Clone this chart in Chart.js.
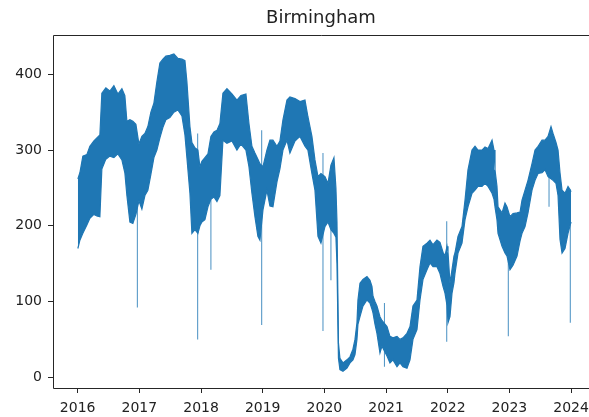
<!DOCTYPE html>
<html>
<head>
<meta charset="utf-8">
<script src="https://cdn.jsdelivr.net/npm/chart.js@4/dist/chart.umd.min.js"></script>
<style>
  html, body { margin: 0; padding: 0; overflow: hidden; background: #fff; }
  #wrap { width: 589px; height: 417px; }
</style>
</head>
<body>
<div id="wrap"><canvas id="c" width="589" height="417"></canvas></div>
<script>
// Daily band of the Birmingham series, sampled as decimal years with the
// upper and lower extent of the daily values at each sample.
const t = [
  2016.003, 2016.036, 2016.084, 2016.149, 2016.198, 2016.263, 2016.311, 2016.360, 2016.392, 2016.457,
  2016.522, 2016.587, 2016.652, 2016.717, 2016.765, 2016.798, 2016.847, 2016.895, 2016.944, 2016.993,
  2017.041, 2017.090, 2017.138, 2017.187, 2017.236, 2017.284, 2017.333, 2017.382, 2017.430, 2017.495,
  2017.560, 2017.625, 2017.690, 2017.739, 2017.771, 2017.820, 2017.852, 2017.901, 2017.949, 2017.982,
  2018.014, 2018.063, 2018.112, 2018.160, 2018.209, 2018.258, 2018.306, 2018.355, 2018.420, 2018.501,
  2018.582, 2018.647, 2018.728, 2018.777, 2018.825, 2018.874, 2018.922, 2018.955, 2019.004, 2019.068,
  2019.117, 2019.166, 2019.231, 2019.279, 2019.328, 2019.393, 2019.441, 2019.523, 2019.604, 2019.685,
  2019.733, 2019.798, 2019.847, 2019.896, 2019.944, 2020.009, 2020.058, 2020.106, 2020.155, 2020.187,
  2020.204, 2020.228, 2020.252,
  2020.301, 2020.366, 2020.415, 2020.463, 2020.496, 2020.528, 2020.544, 2020.577, 2020.625, 2020.690,
  2020.739, 2020.771, 2020.788, 2020.820, 2020.852, 2020.901, 2020.933, 2021.015, 2021.063, 2021.112,
  2021.177, 2021.225, 2021.274, 2021.339, 2021.388, 2021.436, 2021.501, 2021.550, 2021.598, 2021.663,
  2021.712, 2021.761, 2021.825, 2021.874, 2021.923, 2021.955, 2021.988, 2022.004, 2022.036, 2022.069,
  2022.101, 2022.117, 2022.166, 2022.231, 2022.280, 2022.328, 2022.393, 2022.442, 2022.490, 2022.555,
  2022.604, 2022.653, 2022.718, 2022.750, 2022.766, 2022.798, 2022.815, 2022.880, 2022.928, 2022.961,
  2023.009, 2023.058, 2023.123, 2023.172, 2023.204, 2023.253, 2023.301, 2023.366, 2023.415, 2023.464,
  2023.528, 2023.577, 2023.626, 2023.674, 2023.707, 2023.755, 2023.788, 2023.820, 2023.853, 2023.901,
  2023.950, 2023.982, 2023.999
];
const hi = [
  262, 270, 292, 294, 305, 312, 316, 320, 375, 382,
  378, 385, 374, 381, 372, 338, 340, 338, 334, 308,
  318, 322, 331, 350, 362, 390, 415, 420, 424, 425,
  427, 421, 420, 418, 390, 331, 310, 303, 300, 278,
  285, 290, 295, 318, 324, 326, 335, 375, 381, 374,
  366, 372, 374, 335, 305, 296, 288, 282, 278, 300,
  313, 313, 305, 312, 340, 366, 370, 368, 364, 366,
  344, 318, 287, 265, 269, 265, 256, 280, 290, 250,
  205, 45, 25,
  19, 23, 27, 37, 50, 72, 102, 124, 129, 133,
  128, 120, 107, 100, 94, 80, 75, 67, 54, 52,
  54, 50, 52, 58, 67, 94, 102, 146, 173, 177,
  181, 175, 181, 178, 165, 160, 173, 165, 124, 142,
  160, 164, 186, 199, 234, 274, 300, 305, 300, 300,
  304, 302, 313, 300, 274, 252, 225, 217, 230, 225,
  212, 216, 217, 218, 234, 247, 260, 282, 300, 305,
  313, 313, 318, 331, 322, 310, 300, 270, 247, 243,
  252, 248, 245
];
const lo = [
  170, 181, 190, 201, 210, 215, 213, 212, 275, 288,
  292, 290, 295, 287, 270, 240, 205, 203, 215, 233,
  222, 240, 247, 268, 290, 300, 316, 330, 340, 343,
  350, 353, 345, 320, 290, 243, 190, 195, 190, 200,
  205, 208, 225, 235, 238, 232, 240, 313, 309, 312,
  300, 308, 300, 278, 243, 212, 186, 181, 221, 247,
  226, 225, 258, 275, 300, 313, 296, 312, 318, 305,
  300, 269, 247, 186, 177, 199, 205, 195, 190, 185,
  150, 25, 10,
  8, 12, 19, 23, 30, 50, 70, 80, 94, 102,
  98, 90, 85, 70, 58, 32, 41, 28, 19, 23,
  14, 19, 14, 12, 23, 50, 63, 102, 129, 142,
  151, 146, 146, 137, 120, 111, 95, 72, 80, 111,
  125, 137, 164, 177, 208, 225, 243, 247, 252, 252,
  256, 252, 243, 235, 225, 208, 190, 173, 164, 160,
  142, 148, 160, 180, 190, 199, 217, 247, 260, 269,
  270, 274, 265, 262, 260, 256, 240, 182, 164, 170,
  190, 200, 205
];

// Single days that fall far outside the band (holiday dips and similar).
const spikeT   = [2016.968, 2017.945, 2018.160, 2018.983, 2019.977, 2020.106, 2020.974, 2021.983, 2022.982, 2023.642, 2023.987];
const spikeTop = [230, 322, 238, 326, 296, 195, 98, 206, 160, 265, 248];
const spikeLow = [92, 50, 142, 69, 61, 128, 14, 47, 54, 225, 72];

const yearTicks = [2016, 2017, 2018, 2019, 2020, 2021, 2022, 2023, 2024];
const valueTicks = [0, 100, 200, 300, 400];

const BLUE = '#1f77b4';
const INK = '#262626';
const FONT = 'DejaVu Sans';

const upperPts = t.map((x, i) => ({ x, y: hi[i] }));
const lowerPts = t.map((x, i) => ({ x, y: lo[i] }));
const spikePts = [];
spikeT.forEach((x, i) => {
  spikePts.push({ x, y: spikeTop[i] }, { x, y: spikeLow[i] }, { x, y: null });
});

// Axes box: left, bottom and top edges (the right edge runs off the canvas).
const frame = {
  id: 'frame',
  afterDraw(chart) {
    const { ctx, chartArea: a } = chart;
    const l = Math.round(a.left) + 0.5, tp = Math.round(a.top) + 0.5, b = Math.round(a.bottom) + 0.5;
    ctx.save();
    ctx.strokeStyle = INK;
    ctx.lineWidth = 1;
    ctx.beginPath();
    ctx.moveTo(a.right + 2, tp);
    ctx.lineTo(l, tp);
    ctx.lineTo(l, b);
    ctx.lineTo(a.right + 2, b);
    ctx.stroke();
    ctx.restore();
  }
};

new Chart(document.getElementById('c'), {
  type: 'line',
  data: {
    datasets: [
      { data: upperPts, borderColor: BLUE, borderWidth: 1.2, pointRadius: 0, fill: false, tension: 0 },
      { data: lowerPts, borderColor: BLUE, borderWidth: 1.2, pointRadius: 0, fill: '-1', backgroundColor: BLUE, tension: 0 },
      { data: spikePts, borderColor: 'rgba(31,119,180,0.75)', borderWidth: 1.1, pointRadius: 0, fill: false, spanGaps: false }
    ]
  },
  options: {
    responsive: false,
    animation: false,
    events: [],
    layout: { padding: { left: 0, right: 0, top: 0, bottom: 0 } },
    plugins: {
      legend: { display: false },
      tooltip: { enabled: false },
      title: {
        display: true,
        text: 'Birmingham',
        fullSize: false,
        color: '#222',
        font: { family: FONT, size: 18, weight: 'normal', lineHeight: 1.1 },
        padding: { top: 8, bottom: 7 }
      }
    },
    scales: {
      x: {
        type: 'linear',
        min: 2015.6,
        max: 2024.29,
        afterBuildTicks: s => { s.ticks = yearTicks.map(v => ({ value: v })); },
        afterFit: s => { s.height = 29; s.paddingLeft = 0; s.paddingRight = 0; },
        grid: { display: true, drawOnChartArea: false, drawTicks: true, tickLength: 5, color: INK },
        border: { display: false },
        ticks: {
          autoSkip: false, maxRotation: 0, padding: 7, color: '#222',
          font: { family: FONT, size: 14 },
          callback: v => String(v)
        }
      },
      y: {
        type: 'linear',
        min: -14.2,
        max: 452.2,
        afterBuildTicks: s => { s.ticks = valueTicks.map(v => ({ value: v })); },
        afterFit: s => { s.width = 53; s.paddingTop = 0; s.paddingBottom = 0; },
        grid: { display: true, drawOnChartArea: false, drawTicks: true, tickLength: 5, color: INK },
        border: { display: false },
        ticks: {
          padding: 6, color: '#222',
          font: { family: FONT, size: 14 },
          callback: v => String(v)
        }
      }
    }
  },
  plugins: [frame]
});
</script>
</body>
</html>
